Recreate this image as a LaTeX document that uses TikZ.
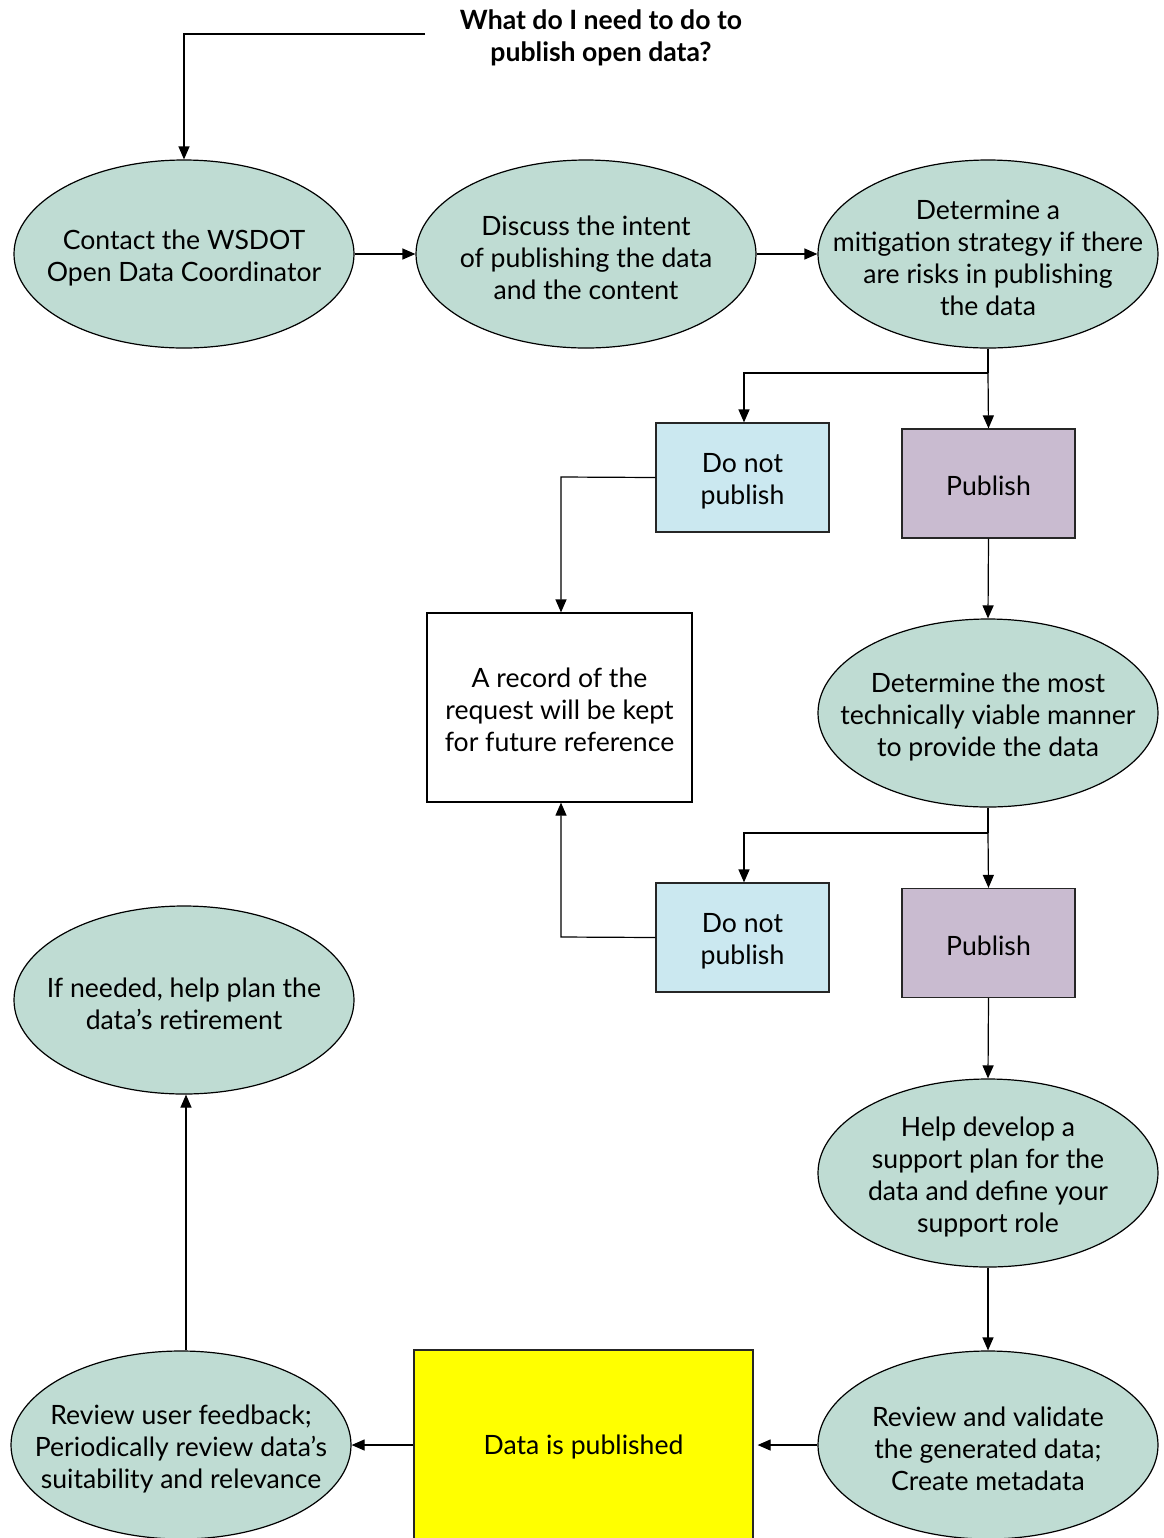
\documentclass[tikz,border=0pt]{standalone}
\usepackage{fontspec}
\setmainfont{Lato}
\usetikzlibrary{shapes.geometric,arrows.meta}
\definecolor{ellfill}{HTML}{BFDCD3}
\definecolor{dnpfill}{HTML}{CBE8F0}
\definecolor{pubfill}{HTML}{C9BBD0}
\definecolor{yel}{HTML}{FFFF00}
\begin{document}
\begin{tikzpicture}[x=0.5pt,y=-0.5pt,
  every node/.style={font=\fontsize{13.3}{16}\selectfont, align=center, text=black},
  lbl/.style={yshift=-1.8pt},
  oval/.style={ellipse, draw=black, line width=0.6pt, fill=ellfill, minimum width=170pt, minimum height=94pt, inner sep=0pt},
  dnp/.style={rectangle, draw=black!85, line width=0.6pt, fill=dnpfill, minimum width=86.5pt, minimum height=54.5pt, inner sep=0pt},
  pub/.style={rectangle, draw=black!85, line width=0.6pt, fill=pubfill, minimum width=86.5pt, minimum height=54.5pt, inner sep=0pt},
  conn/.style={draw=black, line width=0.6pt, -{Triangle[length=6.5pt,width=5.5pt]}},
  plain/.style={draw=black, line width=0.6pt}
]
\useasboundingbox (0,0) rectangle (1163,1538);
\begin{scope}
\clip (0,0) rectangle (1163,1538);

\node[font=\bfseries\fontsize{13.3}{16}\selectfont] (title) at (601,38) {What do I need to do to\\publish open data?};
\coordinate (tstart) at (425,34);

\node[oval] (e1) at (184,254) {};
\node[lbl] at (e1.center) {Contact the WSDOT\\Open Data Coordinator};
\node[oval] (e2) at (586,254) {};
\node[lbl] at (e2.center) {Discuss the intent\\of publishing the data\\and the content};
\node[oval] (e3) at (988,254) {};
\node[lbl] at (e3.center) {Determine a\\mitigation strategy if there\\are risks in publishing\\the data};

\node[dnp] (dnp1) at (742.5,477.5) {};
\node[lbl] at (dnp1.center) {Do not\\publish};
\node[pub] (pub1) at (988.5,483.5) {};
\node[lbl,yshift=0.6pt] at (pub1.center) {Publish};

\node[rectangle, draw=black, line width=0.6pt, fill=white, minimum width=132.5pt, minimum height=94.5pt, inner sep=0pt] (rec) at (559.5,707.5) {};
\node[lbl,yshift=0.6pt] at (rec.center) {A record of the\\request will be kept\\for future reference};

\node[oval] (e4) at (988,713) {};
\node[lbl] at (e4.center) {Determine the most\\technically viable manner\\to provide the data};

\node[dnp] (dnp2) at (742.5,937.5) {};
\node[lbl] at (dnp2.center) {Do not\\publish};
\node[pub] (pub2) at (988.5,943) {};
\node[lbl,yshift=0.6pt] at (pub2.center) {Publish};

\node[oval] (e8) at (184,1000) {};
\node[lbl] at (e8.center) {If needed, help plan the\\data’s retirement};

\node[oval] (e5) at (988,1173) {};
\node[lbl] at (e5.center) {Help develop a\\support plan for the\\data and define your\\support role};

\node[oval] (e6) at (988,1445) {};
\node[lbl] at (e6.center) {Review and validate\\the generated data;\\Create metadata};
\node[rectangle, draw=black!85, line width=0.6pt, fill=yel, minimum width=169.5pt, minimum height=95pt, inner sep=0pt] (pubd) at (583.5,1445) {};
\node[lbl,yshift=0.6pt] (pubdtxt) at (pubd.center) {Data is published};
\node[oval] (e7) at (181,1445) {};
\node[lbl] at (e7.center) {Review user feedback;\\Periodically review data’s\\suitability and relevance};

\end{scope}

% connectors
\draw[conn] (tstart) -- (184,34) -- (e1.north);
\draw[conn] (e1.east) -- (e2.west);
\draw[conn] (e2.east) -- (e3.west);
\draw[plain] (e3.south) -- (988,373);
\draw[conn] (988,373) -- (pub1.north);
\draw[conn] (988,373) -- (744,373) -- (dnp1.north -| 744,0);
\draw[conn] (dnp1.west) -- (561,477) -- (rec.north -| 561,0);
\draw[conn] (pub1.south) -- (e4.north);
\draw[plain] (e4.south) -- (988,833);
\draw[conn] (988,833) -- (pub2.north);
\draw[conn] (988,833) -- (744,833) -- (dnp2.north -| 744,0);
\draw[conn] (dnp2.west) -- (561,937) -- (rec.south -| 561,0);
\draw[conn] (pub2.south) -- (e5.north);
\draw[conn] (e5.south) -- (e6.north);
\draw[conn] (e6.west) -- ([xshift=2pt]pubd.east);
\draw[conn] (pubd.west) -- (e7.east);
\draw[conn] (e7.north -| 186,0) -- (e8.south -| 186,0);
\end{tikzpicture}
\end{document}
